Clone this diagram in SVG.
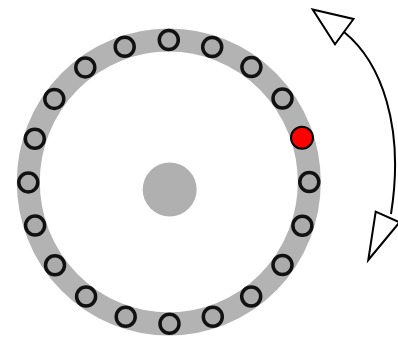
<svg xmlns="http://www.w3.org/2000/svg" width="398" height="338" viewBox="0 0 398 338">
  <style>
    .slot { fill: #ababab; stroke: #111; stroke-width: 3.5; }
    .active { fill: #ff0000; stroke: #000; stroke-width: 2; }
    .arc { fill: none; stroke: #000; stroke-width: 2; }
    .head { fill: #fff; stroke: #000; stroke-width: 2; stroke-linejoin: miter; }
  </style>
  <rect width="398" height="338" fill="#fff"/>
  <g id="ring">
    <ellipse cx="168.8" cy="182" rx="140.5" ry="142" fill="none" stroke="#b3b3b3" stroke-width="23"/>
  </g>
  <g id="hub">
    <circle cx="169.7" cy="189.5" r="27" fill="#b0b0b0"/>
  </g>
  <g id="slots">
    <g id="slot-0"><circle class="slot" cx="168.8" cy="40" r="9.5"/></g>
    <g id="slot-1"><circle class="slot" cx="212.2" cy="47" r="9.5"/></g>
    <g id="slot-2"><circle class="slot" cx="251.4" cy="67.1" r="9.5"/></g>
    <g id="slot-3"><circle class="slot" cx="282.5" cy="98.5" r="9.5"/></g>
    <g id="slot-4"><circle class="active" cx="302" cy="137.8" r="11"/></g>
    <g id="slot-5"><circle class="slot" cx="309.3" cy="182" r="9.5"/></g>
    <g id="slot-6"><circle class="slot" cx="302.4" cy="225.7" r="9.5"/></g>
    <g id="slot-7"><circle class="slot" cx="282.5" cy="265" r="9.5"/></g>
    <g id="slot-8"><circle class="slot" cx="251.2" cy="296.5" r="9.5"/></g>
    <g id="slot-9"><circle class="slot" cx="212.8" cy="316.8" r="9.5"/></g>
    <g id="slot-10"><circle class="slot" cx="169.5" cy="323.7" r="9.5"/></g>
    <g id="slot-11"><circle class="slot" cx="125.7" cy="316.8" r="9.5"/></g>
    <g id="slot-12"><circle class="slot" cx="86.1" cy="296.5" r="9.5"/></g>
    <g id="slot-13"><circle class="slot" cx="55" cy="265.2" r="9.5"/></g>
    <g id="slot-14"><circle class="slot" cx="35.1" cy="225.5" r="9.5"/></g>
    <g id="slot-15"><circle class="slot" cx="28.3" cy="182.4" r="9.5"/></g>
    <g id="slot-16"><circle class="slot" cx="34.8" cy="138.7" r="9.5"/></g>
    <g id="slot-17"><circle class="slot" cx="54.3" cy="98.9" r="9.5"/></g>
    <g id="slot-18"><circle class="slot" cx="85.3" cy="67.4" r="9.5"/></g>
    <g id="slot-19"><circle class="slot" cx="124.7" cy="46.8" r="9.5"/></g>
  </g>
  <g id="connectors">
    <path class="arc" d="M 344 32 C 381 62 405 126 391 214"/>
    <polygon class="head" points="312.7,9.5 353.5,19 335,44.3"/>
    <polygon class="head" points="368.3,260 375.7,211.7 399.5,222.3"/>
  </g>
</svg>
